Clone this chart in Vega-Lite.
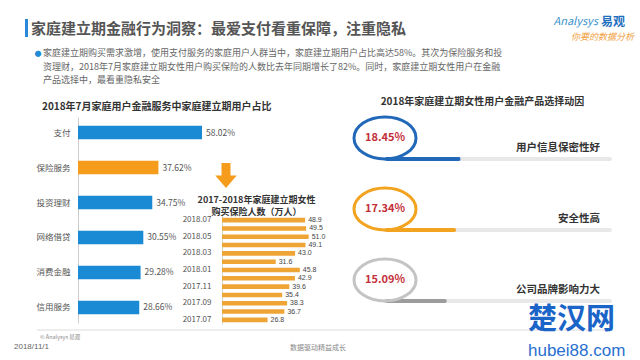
{
  "$schema": "https://vega.github.io/schema/vega-lite/v6.json",
  "padding": {"left": 14, "top": 0, "right": 0, "bottom": 0},
  "background": "#ffffff",
  "config": {"font": "Noto Sans CJK SC", "view": {"stroke": null}},
  "bounds": "flush",
  "spacing": 0,
  "vconcat": [
    {
      "width": 562,
      "height": 117,
      "layer": [
        {"data": {"values": [{"part": "marker"}]}, "mark": {"type": "point", "shape": "M-0.17,-1L0.17,-1L0.17,1L-0.17,1Z", "size": 324, "filled": true, "color": "#2b87d8", "opacity": 1},
         "encoding": {"x": {"datum": 26.5, "type": "quantitative", "scale": {"domain": [78, 640], "nice": false, "zero": false}, "axis": null},
                      "y": {"datum": 28, "type": "quantitative", "scale": {"domain": [0, 117], "reverse": true, "nice": false, "zero": false}, "axis": null}}},
        {"data": {"values": [{"label": "家庭建立期金融行为洞察：最爱支付看重保障，注重隐私"}]},
         "mark": {"type": "text", "align": "left", "fontSize": 15, "fontWeight": "bold", "color": "#555555"},
         "encoding": {"x": {"datum": 31, "type": "quantitative", "scale": {"domain": [78, 640], "nice": false, "zero": false}, "axis": null},
                      "y": {"datum": 28.5, "type": "quantitative", "scale": {"domain": [0, 117], "reverse": true, "nice": false, "zero": false}, "axis": null},
                      "text": {"field": "label"}}},
        {"data": {"values": [{"label": "●"}]},
         "mark": {"type": "text", "align": "center", "fontSize": 7, "color": "#1f8dd6"},
         "encoding": {"x": {"datum": 38, "type": "quantitative", "scale": {"domain": [78, 640], "nice": false, "zero": false}, "axis": null},
                      "y": {"datum": 54, "type": "quantitative", "scale": {"domain": [0, 117], "reverse": true, "nice": false, "zero": false}, "axis": null},
                      "text": {"field": "label"}}},
        {"data": {"values": [{"label": "家庭建立期购买需求激增，使用支付服务的家庭用户人群当中，家庭建立期用户占比高达58%。其次为保险服务和投\n资理财，2018年7月家庭建立期女性用户购买保险的人数比去年同期增长了82%。同时，家庭建立期女性用户在金融\n产品选择中，最看重隐私安全"}]},
         "mark": {"type": "text", "align": "left", "baseline": "top", "fontSize": 9, "lineHeight": 13.5, "lineBreak": "\n", "color": "#666666"},
         "encoding": {"x": {"datum": 43, "type": "quantitative", "scale": {"domain": [78, 640], "nice": false, "zero": false}, "axis": null},
                      "y": {"datum": 49, "type": "quantitative", "scale": {"domain": [0, 117], "reverse": true, "nice": false, "zero": false}, "axis": null},
                      "text": {"field": "label"}}},
        {"data": {"values": [{"label": "Analysys"}]},
         "mark": {"type": "text", "align": "right", "fontSize": 11, "fontStyle": "italic", "color": "#3c92cc"},
         "encoding": {"x": {"datum": 598, "type": "quantitative", "scale": {"domain": [78, 640], "nice": false, "zero": false}, "axis": null},
                      "y": {"datum": 22, "type": "quantitative", "scale": {"domain": [0, 117], "reverse": true, "nice": false, "zero": false}, "axis": null},
                      "text": {"field": "label"}}},
        {"data": {"values": [{"label": "易观"}]},
         "mark": {"type": "text", "align": "left", "fontSize": 12, "fontWeight": "bold", "color": "#1f6fc0"},
         "encoding": {"x": {"datum": 601, "type": "quantitative", "scale": {"domain": [78, 640], "nice": false, "zero": false}, "axis": null},
                      "y": {"datum": 21.5, "type": "quantitative", "scale": {"domain": [0, 117], "reverse": true, "nice": false, "zero": false}, "axis": null},
                      "text": {"field": "label"}}},
        {"data": {"values": [{"label": "你要的数据分析"}]},
         "mark": {"type": "text", "align": "right", "fontSize": 9, "fontStyle": "italic", "color": "#f0a040"},
         "encoding": {"x": {"datum": 634, "type": "quantitative", "scale": {"domain": [78, 640], "nice": false, "zero": false}, "axis": null},
                      "y": {"datum": 37, "type": "quantitative", "scale": {"domain": [0, 117], "reverse": true, "nice": false, "zero": false}, "axis": null},
                      "text": {"field": "label"}}}
      ]
    },
    {
      "bounds": "flush",
      "spacing": 25,
      "hconcat": [
        {
          "width": 252,
          "height": 206,
          "title": {"text": "2018年7月家庭用户金融服务中家庭建立期用户占比", "fontSize": 10, "fontWeight": "bold", "color": "#333333", "anchor": "start", "frame": "bounds", "dx": 6, "offset": 5},
          "resolve": {"scale": {"x": "independent", "y": "independent"}},
          "layer": [
            {
              "data": {"values": [
                {"service": "支付", "share": 0.5802},
                {"service": "保险服务", "share": 0.3762},
                {"service": "投资理财", "share": 0.3475},
                {"service": "网络借贷", "share": 0.3055},
                {"service": "消费金融", "share": 0.2928},
                {"service": "信用服务", "share": 0.2866}
              ]},
              "encoding": {
                "y": {"field": "service", "type": "nominal", "sort": null, "scale": {"paddingInner": 0.614, "paddingOuter": 0.25},
                      "axis": {"title": null, "ticks": false, "labelFontSize": 8.5, "labelColor": "#555555", "labelPadding": 8, "domainColor": "#cccccc"}},
                "x": {"field": "share", "type": "quantitative", "scale": {"domain": [0, 1.179], "nice": false}, "axis": null}
              },
              "layer": [
                {"mark": {"type": "bar"},
                 "encoding": {"color": {"condition": {"test": "datum.service === '保险服务'", "value": "#f59c1c"}, "value": "#1a8ad4"}}},
                {"mark": {"type": "text", "align": "left", "dx": 4, "fontSize": 8.5, "color": "#555555"},
                 "encoding": {"text": {"field": "share", "format": ".2%"}}},
                {"transform": [{"filter": "datum.service === '保险服务'"}],
                 "mark": {"type": "point", "shape": "M-0.36,-1L0.36,-1L0.36,0L0.86,0L0,1L-0.86,0L-0.36,0Z", "size": 625, "filled": true, "color": "#f59c1c", "opacity": 1, "yOffset": 8},
                 "encoding": {"x": {"datum": 0.6924, "type": "quantitative"}}}
              ]
            },
            {
              "data": {"values": [
                {"month": "2018.07", "buyers": 48.9},
                {"month": "2018.06", "buyers": 49.5},
                {"month": "2018.05", "buyers": 51.0},
                {"month": "2018.04", "buyers": 49.1},
                {"month": "2018.03", "buyers": 43.0},
                {"month": "2018.02", "buyers": 31.6},
                {"month": "2018.01", "buyers": 45.8},
                {"month": "2017.12", "buyers": 42.9},
                {"month": "2017.11", "buyers": 39.6},
                {"month": "2017.10", "buyers": 35.4},
                {"month": "2017.09", "buyers": 38.3},
                {"month": "2017.08", "buyers": 36.7},
                {"month": "2017.07", "buyers": 26.8}
              ]},
              "encoding": {
                "y": {"field": "month", "type": "nominal", "sort": null,
                      "scale": {"range": [99, 207], "paddingInner": 0.45, "paddingOuter": 0.225},
                      "axis": {"orient": "left", "offset": -144, "values": ["2018.07", "2018.05", "2018.03", "2018.01", "2017.11", "2017.09", "2017.07"], "title": null, "ticks": false, "labelFontSize": 8, "labelColor": "#555555", "labelPadding": 11, "domainColor": "#d5d5d5"}},
                "x": {"field": "buyers", "type": "quantitative", "scale": {"domain": [0, 60], "range": [144, 246], "nice": false},
                      "axis": {"orient": "top", "offset": -100, "labels": false, "ticks": false, "domain": false, "grid": false,
                               "title": ["2017-2018年家庭建立期女性", "购买保险人数（万人）"], "titleFontSize": 9, "titleFontWeight": "bold", "titleColor": "#333333", "titleX": 178, "titlePadding": 1, "titleLineHeight": 12}}
              },
              "layer": [
                {"mark": {"type": "bar", "color": "#efa536"}},
                {"mark": {"type": "text", "align": "left", "dx": 3, "fontSize": 7, "font": "Liberation Sans", "color": "#444444"},
                 "encoding": {"text": {"field": "buyers", "format": ".1f"}}}
              ]
            }
          ]
        },
        {
          "width": 255,
          "height": 206,
          "title": {"text": "2018年家庭建立期女性用户金融产品选择动因", "fontSize": 10, "fontWeight": "bold", "color": "#333333", "offset": 4},
          "resolve": {"scale": {"x": "independent", "y": "independent", "color": "independent", "stroke": "independent"}},
          "layer": [
            {
              "data": {"values": [
                {"reason": "用户信息保密性好", "share": 0.1845},
                {"reason": "安全性高", "share": 0.1734},
                {"reason": "公司品牌影响力大", "share": 0.1509}
              ]},
              "encoding": {
                "y": {"field": "reason", "type": "nominal", "sort": null, "scale": {"type": "point", "padding": 0.45, "align": 0.656}, "axis": null}
              },
              "layer": [
                {"mark": {"type": "rule", "strokeWidth": 4, "color": "#e8e8e8", "strokeCap": "round"},
                 "encoding": {"x": {"datum": 0, "type": "quantitative", "scale": {"domain": [-0.0732, 0.5488], "nice": false, "zero": false}, "axis": null}, "x2": {"value": "width"}}},
                {"mark": {"type": "bar", "height": 4, "cornerRadius": 2},
                 "encoding": {"x": {"field": "share", "type": "quantitative", "scale": {"domain": [-0.0732, 0.5488], "nice": false, "zero": false}, "axis": null},
                              "color": {"field": "reason", "type": "nominal", "scale": {"domain": ["用户信息保密性好", "安全性高", "公司品牌影响力大"], "range": ["#2169b8", "#f2a31f", "#9c9c9c"]}, "legend": null}}},
                {"mark": {"type": "point", "shape": "M-1,0A1,0.677,0,1,1,1,0A1,0.677,0,1,1,-1,0Z", "size": 3844, "filled": false, "strokeWidth": 3, "opacity": 1, "yOffset": -21},
                 "encoding": {"x": {"datum": 0, "type": "quantitative", "scale": {"domain": [-0.0732, 0.5488], "nice": false, "zero": false}, "axis": null},
                              "stroke": {"field": "reason", "type": "nominal", "scale": {"domain": ["用户信息保密性好", "安全性高", "公司品牌影响力大"], "range": ["#2169b8", "#f2a31f", "#c4c4c4"]}, "legend": null}}},
                {"mark": {"type": "text", "fontSize": 11, "fontWeight": "bold", "color": "#c4303a", "yOffset": -21},
                 "encoding": {"x": {"datum": 0, "type": "quantitative", "scale": {"domain": [-0.0732, 0.5488], "nice": false, "zero": false}, "axis": null},
                              "text": {"field": "share", "format": ".2%"}}},
                {"mark": {"type": "text", "align": "right", "fontSize": 10.5, "fontWeight": "bold", "color": "#333333", "yOffset": -11},
                 "encoding": {"x": {"datum": 0.5244, "type": "quantitative", "scale": {"domain": [-0.0732, 0.5488], "nice": false, "zero": false}, "axis": null},
                              "text": {"field": "reason"}}}
              ]
            },
            {
              "layer": [
                {"data": {"values": [{"part": "separator"}]}, "mark": {"type": "rule", "color": "#dcdcdc", "strokeWidth": 1},
                 "encoding": {"x": {"datum": 37, "type": "quantitative", "scale": {"domain": [355, 610], "nice": false, "zero": false}, "axis": null}, "x2": {"value": "width"},
                              "y": {"datum": 330, "type": "quantitative", "scale": {"domain": [117, 323], "reverse": true, "nice": false, "zero": false}, "axis": null}}},
                {"data": {"values": [{"label": "© Analysys 易观"}]},
                 "mark": {"type": "text", "align": "left", "fontSize": 5.5, "color": "#888888"},
                 "encoding": {"x": {"datum": 40, "type": "quantitative", "scale": {"domain": [355, 610], "nice": false, "zero": false}, "axis": null},
                              "y": {"datum": 336.5, "type": "quantitative", "scale": {"domain": [117, 323], "reverse": true, "nice": false, "zero": false}, "axis": null},
                              "text": {"field": "label"}}},
                {"data": {"values": [{"label": "2018/11/1"}]},
                 "mark": {"type": "text", "align": "left", "fontSize": 8, "color": "#666666", "font": "Liberation Sans"},
                 "encoding": {"x": {"datum": 14, "type": "quantitative", "scale": {"domain": [355, 610], "nice": false, "zero": false}, "axis": null},
                              "y": {"datum": 347, "type": "quantitative", "scale": {"domain": [117, 323], "reverse": true, "nice": false, "zero": false}, "axis": null},
                              "text": {"field": "label"}}},
                {"data": {"values": [{"label": "数据驱动精益成长"}]},
                 "mark": {"type": "text", "align": "center", "fontSize": 7, "color": "#888888"},
                 "encoding": {"x": {"datum": 318, "type": "quantitative", "scale": {"domain": [355, 610], "nice": false, "zero": false}, "axis": null},
                              "y": {"datum": 348, "type": "quantitative", "scale": {"domain": [117, 323], "reverse": true, "nice": false, "zero": false}, "axis": null},
                              "text": {"field": "label"}}},
                {"data": {"values": [{"label": "楚汉网"}]},
                 "mark": {"type": "text", "align": "left", "fontSize": 29, "fontWeight": "bold", "color": "#1b64c8"},
                 "encoding": {"x": {"datum": 528, "type": "quantitative", "scale": {"domain": [355, 610], "nice": false, "zero": false}, "axis": null},
                              "y": {"datum": 320, "type": "quantitative", "scale": {"domain": [117, 323], "reverse": true, "nice": false, "zero": false}, "axis": null},
                              "text": {"field": "label"}}},
                {"data": {"values": [{"label": "hubei88.com"}]},
                 "mark": {"type": "text", "align": "left", "fontSize": 17, "color": "#2a6fd0", "font": "Liberation Sans"},
                 "encoding": {"x": {"datum": 528, "type": "quantitative", "scale": {"domain": [355, 610], "nice": false, "zero": false}, "axis": null},
                              "y": {"datum": 350.5, "type": "quantitative", "scale": {"domain": [117, 323], "reverse": true, "nice": false, "zero": false}, "axis": null},
                              "text": {"field": "label"}}}
              ]
            }
          ]
        }
      ]
    }
  ]
}
